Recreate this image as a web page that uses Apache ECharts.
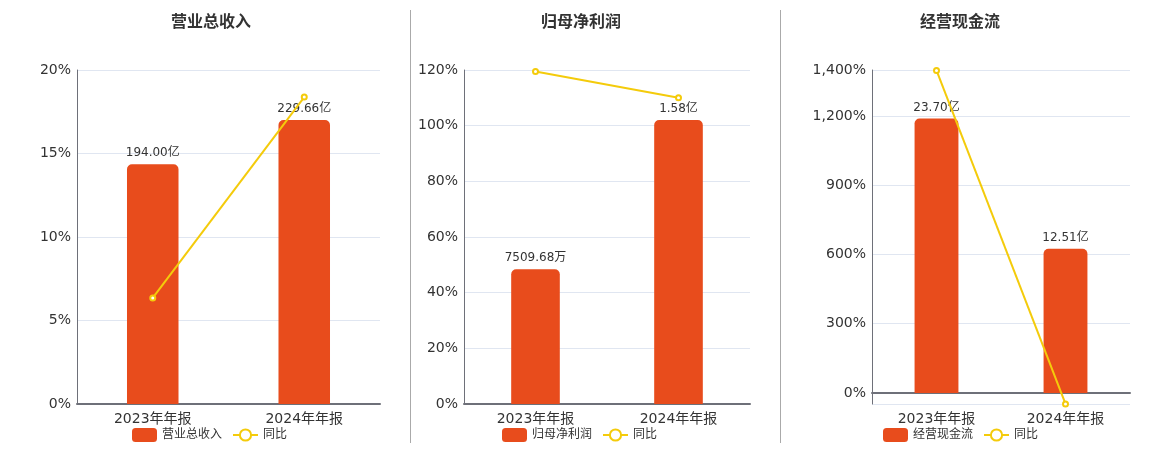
<!DOCTYPE html>
<html>
<head>
<meta charset="utf-8">
<script src="https://cdn.jsdelivr.net/npm/echarts@6/dist/echarts.min.js"></script>
<style>
html,body{margin:0;padding:0;background:#fff;}
#wrap{position:relative;width:1160px;height:450px;}
.panel{position:absolute;top:0;height:450px;}
.sep{position:absolute;top:10px;height:433px;width:1px;background:#aaa;}
</style>
</head>
<body>
<div id="wrap">
  <div id="c1" class="panel" style="left:0;width:410px;"></div>
  <div id="c2" class="panel" style="left:410px;width:370px;"></div>
  <div id="c3" class="panel" style="left:780px;width:380px;"></div>
  <div class="sep" style="left:410px;"></div>
  <div class="sep" style="left:780px;"></div>
</div>
<script>
const categories = ['2023年年报', '2024年年报'];

const revenueName = '营业总收入';
const revenueBar = [14.35, 17.0];
const revenueLabels = ['194.00亿', '229.66亿'];
const revenueYoy = [6.35, 18.38];

const profitName = '归母净利润';
const profitBar = [48.4, 102.0];
const profitLabels = ['7509.68万', '1.58亿'];
const profitYoy = [119.5, 110.0];

const cashName = '经营现金流';
const cashBar = [1189.6, 625.2];
const cashLabels = ['23.70亿', '12.51亿'];
const cashYoy = [1398, -47.8];

const yoyName = '同比';
const FONT = 'DejaVu Sans, "Noto Sans CJK SC", sans-serif';

function build(el, cfg) {
  const chart = echarts.init(document.getElementById(el));
  chart.setOption({
    animation: false,
    textStyle: { fontFamily: FONT },
    title: {
      text: cfg.title, left: cfg.titleLeft, top: 15, padding: 0,
      textStyle: { fontSize: 16, fontWeight: 'bold', color: '#333', fontFamily: FONT }
    },
    legend: {
      data: [cfg.title, yoyName], left: cfg.legendLeft, top: 428, padding: 0,
      itemWidth: 25, itemHeight: 14, itemGap: 10,
      textStyle: { fontSize: 12, color: '#333', fontFamily: FONT }
    },
    grid: { left: cfg.gridLeft, right: 30, top: 70, bottom: 46, containLabel: false },
    xAxis: {
      type: 'category', data: categories,
      axisLine: { lineStyle: { color: '#6E7079', width: 2 } },
      axisTick: { lineStyle: { color: '#6E7079' } },
      axisLabel: { fontSize: 14, color: '#333', margin: 8, fontFamily: FONT }
    },
    yAxis: Object.assign({
      type: 'value',
      axisLine: { show: true, lineStyle: { color: '#6E7079' } },
      axisTick: { show: false },
      splitLine: { lineStyle: { color: '#E0E6F1' } },
      axisLabel: {
        fontSize: 14, color: '#333', margin: 6, fontFamily: FONT,
        formatter: v => v < 0 ? '' : v.toLocaleString('en-US') + '%'
      }
    }, cfg.yAxis),
    series: [
      {
        name: cfg.title, type: 'bar', data: cfg.bar, barWidth: '34%',
        itemStyle: { color: '#E84C1C', borderRadius: [5, 5, 0, 0] },
        label: {
          show: true, position: 'top', distance: 5, fontSize: 12, color: '#333', fontFamily: FONT,
          formatter: p => cfg.labels[p.dataIndex]
        }
      },
      {
        name: yoyName, type: 'line', data: cfg.yoy,
        symbol: 'emptyCircle', symbolSize: 5,
        lineStyle: { color: '#F4CB0B', width: 2 },
        itemStyle: { color: '#F4CB0B' }
      }
    ]
  });
}

build('c1', { title: revenueName, titleLeft: 171, legendLeft: 132, gridLeft: 77,
  bar: revenueBar, labels: revenueLabels, yoy: revenueYoy,
  yAxis: { min: 0, max: 20, interval: 5 } });
build('c2', { title: profitName, titleLeft: 131, legendLeft: 92, gridLeft: 54,
  bar: profitBar, labels: profitLabels, yoy: profitYoy,
  yAxis: { min: 0, max: 120, interval: 20 } });
build('c3', { title: cashName, titleLeft: 140, legendLeft: 103, gridLeft: 92,
  bar: cashBar, labels: cashLabels, yoy: cashYoy,
  yAxis: { min: -48, max: 1400, splitNumber: 5 } });
</script>
</body>
</html>
